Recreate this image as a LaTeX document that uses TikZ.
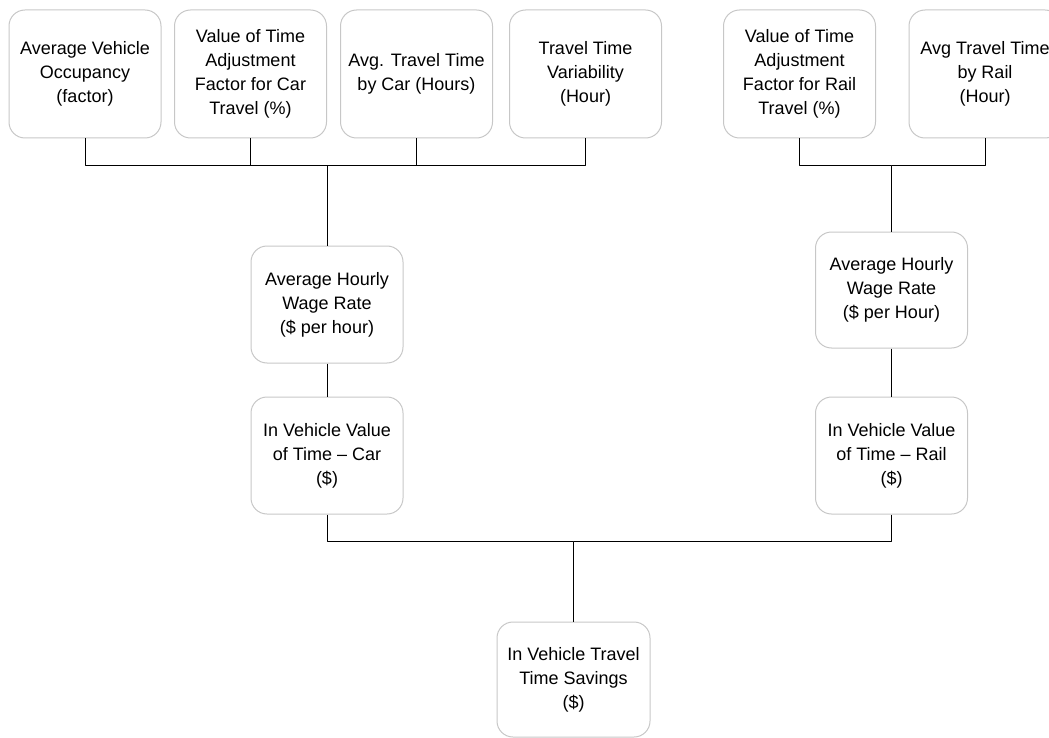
\documentclass[tikz,border=0pt]{standalone}
\usepackage{fontspec}
\setmainfont{Liberation Sans}
\begin{document}
\begin{tikzpicture}[x=1pt, y=-1pt, line join=round, font=\fontsize{18}{24}\selectfont,
		box/.style={draw=black!22, line width=1pt, rounded corners=16pt, align=center, inner sep=0pt, minimum width=152pt},
		wire/.style={black, line width=1pt}]
			\useasboundingbox (0,0) rectangle (1049,738);
			% top row
			\node [box, minimum height=128pt] (occ) at (85,74) {Average Vehicle\\Occupancy\\(factor)};
			\node [box, minimum height=128pt] (adjcar) at (250.5,74) {Value of Time\\Adjustment\\Factor for Car\\Travel (\%)};
			\node [box, minimum height=128pt] (ttcar) at (416.5,74) {Avg. Travel Time\\by Car (Hours)};
			\node [box, minimum height=128pt] (var) at (585.5,74) {Travel Time\\Variability\\(Hour)};
			\node [box, minimum height=128pt] (adjrail) at (799.5,74) {Value of Time\\Adjustment\\Factor for Rail\\Travel (\%)};
			\node [box, minimum height=128pt] (ttrail) at (985,74) {Avg Travel Time\\by Rail\\(Hour)};
			% middle
			\node [box, minimum height=117pt] (wagecar) at (327,304.5) {Average Hourly\\Wage Rate\\(\$ per hour)};
			\node [box, minimum height=117pt] (ivcar) at (327,455.5) {In Vehicle Value\\of Time -- Car\\(\$)};
			\node [box, minimum height=116pt] (wagerail) at (891.5,290) {Average Hourly\\Wage Rate\\(\$ per Hour)};
			\node [box, minimum height=117pt] (ivrail) at (891.5,455.5) {In Vehicle Value\\of Time -- Rail\\(\$)};
			% bottom
			\node [box, minimum height=115pt, minimum width=153pt] (saving) at (573.5,679.5) {In Vehicle Travel\\Time Savings\\(\$)};
			\coordinate (carbus) at (327,166);
			\coordinate (railbus) at (891.5,166);
			\coordinate (savebus) at (573.5,541);
			\draw [wire] (occ.south) |- (carbus) -- (wagecar.north);
			\draw [wire] (adjcar.south) |- (carbus);
			\draw [wire] (ttcar.south) |- (carbus);
			\draw [wire] (var.south) |- (carbus);
			\draw [wire] (adjrail.south) |- (railbus) -- (wagerail.north);
			\draw [wire] (ttrail.south) |- (railbus);
			\draw [wire] (wagecar) -- (ivcar);
			\draw [wire] (wagerail) -- (ivrail);
			\draw [wire] (ivcar.south) |- (savebus) -- (saving.north);
			\draw [wire] (ivrail.south) |- (savebus);
		\end{tikzpicture}
\end{document}
